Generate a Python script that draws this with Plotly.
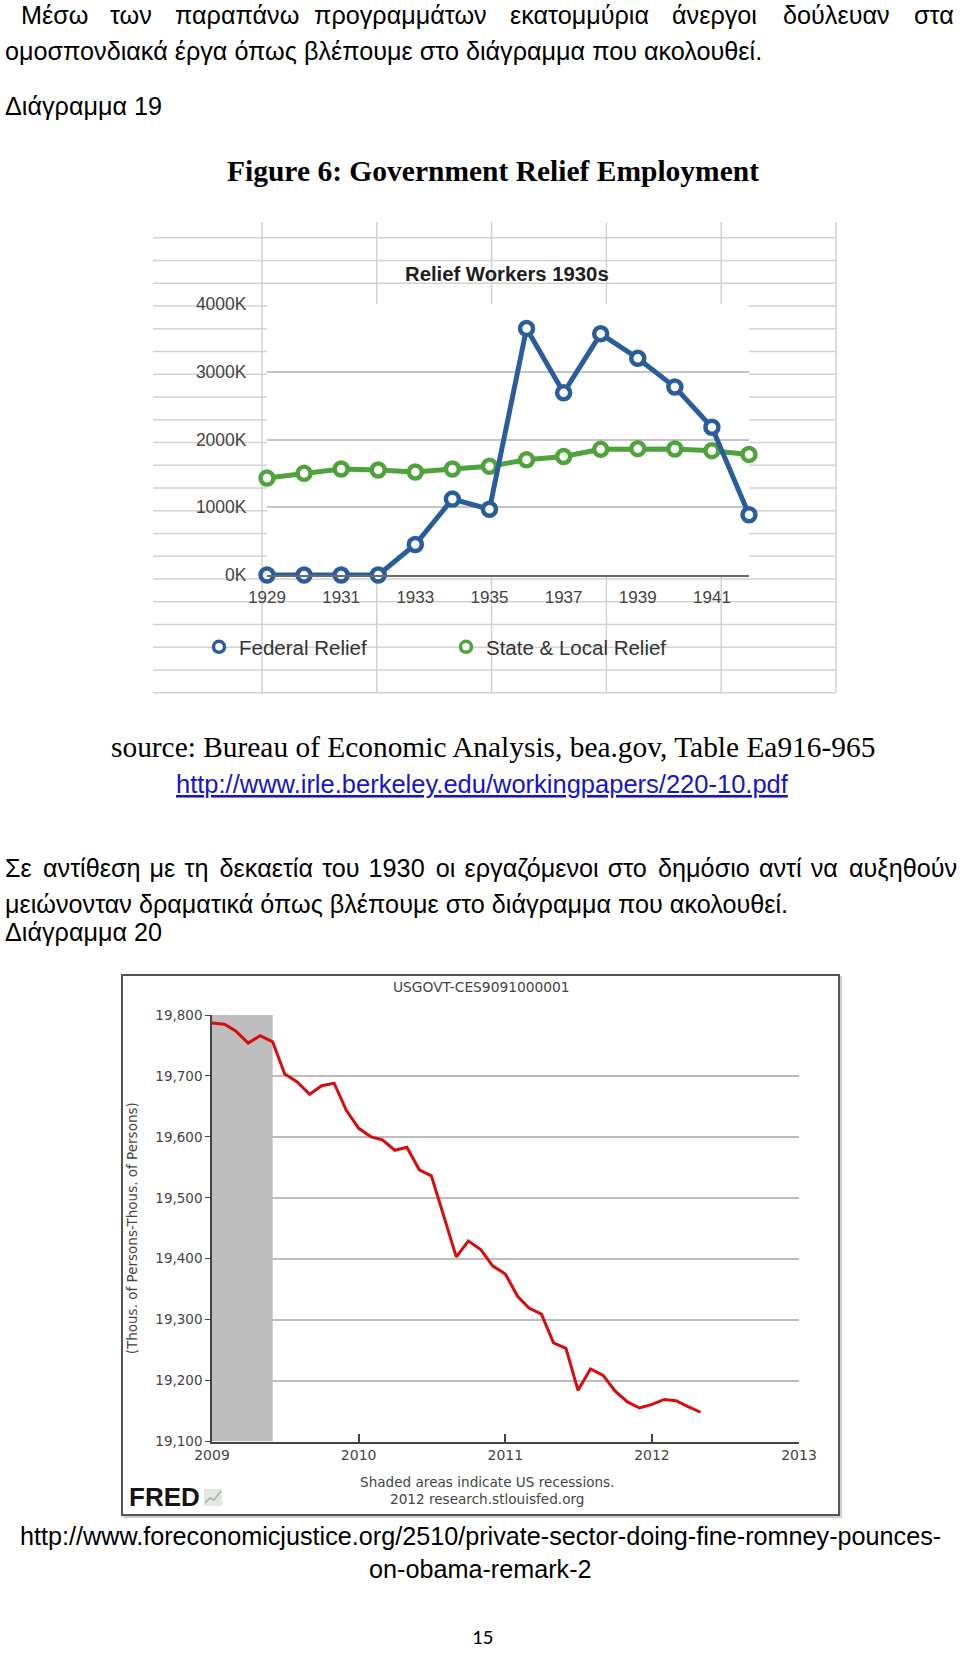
import pandas as pd
import plotly.graph_objects as go

# figure fills the whole window (body margin is removed after plotting)
OFF = 0
FW, FH = 960, 1655

# %% data: relief workers in the 1930s (thousands)
years = list(range(1929, 1943))
federal_relief = [0, 0, 0, 0, 450, 1120, 970, 3640, 2690, 3560, 3200, 2775, 2180, 890]
state_local_relief = [1430, 1500, 1565, 1550, 1520, 1565, 1605, 1700, 1750, 1855, 1865, 1860, 1835, 1780]
relief_ticks = [0, 1000, 2000, 3000, 4000]
relief_ticktext = ['0K', '1000K', '2000K', '3000K', '4000K']
year_ticks = [1929, 1931, 1933, 1935, 1937, 1939, 1941]

# %% data: USGOVT-CES9091000001 (thous. of persons), monthly
months = pd.date_range('2009-01-01', '2012-05-01', freq='MS')
gov_employees = [19787, 19785, 19774, 19754, 19766, 19756, 19703, 19690, 19670, 19684,
                 19688, 19644, 19614, 19600, 19595, 19578, 19583, 19546, 19536, 19470,
                 19403, 19429, 19415, 19388, 19375, 19338, 19319, 19309, 19262, 19253,
                 19184, 19219, 19209, 19183, 19165, 19155, 19161, 19169, 19167, 19157,
                 19148]
gov_ticks = [19100, 19200, 19300, 19400, 19500, 19600, 19700, 19800]
gov_range = [19100, 19800]
recession_start, recession_end = '2007-12-01', '2009-06-01'

BLUE = '#2a5d9b'
GREEN = '#4fa23c'
SANS = 'Liberation Sans, Arial'
SERIF = 'Liberation Serif, Times New Roman'
FRED_FONT = 'DejaVu Sans, Verdana'
BODY = 25.2


def px(x):
    return (x - OFF) / FW


def py(y):
    return 1 - (y - OFF) / FH


fig = go.Figure()

# %% chart 1 traces
fig.add_trace(go.Scatter(x=years, y=state_local_relief, mode='lines+markers',
                         line=dict(color=GREEN, width=5),
                         marker=dict(symbol='circle', size=13, color='white',
                                     line=dict(color=GREEN, width=4.5)),
                         cliponaxis=False, showlegend=False, xaxis='x', yaxis='y'))
fig.add_trace(go.Scatter(x=years, y=federal_relief, mode='lines+markers',
                         line=dict(color=BLUE, width=5),
                         marker=dict(symbol='circle', size=13, color='white',
                                     line=dict(color=BLUE, width=4.5)),
                         cliponaxis=False, showlegend=False, xaxis='x', yaxis='y'))
# legend entries (markers only, as in the original)
for name, col in [('Federal Relief', BLUE), ('State & Local Relief', GREEN)]:
    fig.add_trace(go.Scatter(x=[None], y=[None], mode='markers', name=name,
                             marker=dict(symbol='circle', size=11, color='white',
                                         line=dict(color=col, width=3.5)),
                             xaxis='x', yaxis='y'))

# %% chart 2 traces: recession band + series
fig.add_trace(go.Scatter(x=[recession_start, recession_end, recession_end, recession_start],
                         y=[gov_range[0], gov_range[0], gov_range[1], gov_range[1]],
                         fill='toself', fillcolor='#bebebe', mode='lines', line_width=0,
                         hoverinfo='skip', showlegend=False, xaxis='x2', yaxis='y2'))
fig.add_trace(go.Scatter(x=months, y=gov_employees, mode='lines',
                         line=dict(color='#d80c0c', width=3),
                         showlegend=False, xaxis='x2', yaxis='y2'))

# %% spreadsheet grid behind chart 1
shapes = []
grid_col = '#d2d2d2'
plot_l, plot_r, plot_t, plot_b = 267, 749, 304, 575
rows = [237.7 + 22.75 * k for k in range(21)]
cols = [262 + 114.8 * j for j in range(6)]
for yy in rows:
    if plot_t - 1 <= yy <= plot_b + 1:
        segs = [(153, plot_l), (plot_r, 836)]
    else:
        segs = [(153, 836)]
    for a, b in segs:
        shapes.append(dict(type='line', xref='paper', yref='paper', x0=px(a), x1=px(b),
                           y0=py(yy), y1=py(yy), line=dict(color=grid_col, width=1.5),
                           layer='below'))
for xx in cols:
    if plot_l < xx < plot_r:
        segs = [(222, plot_t), (plot_b, 693)]
    else:
        segs = [(222, 693)]
    for a, b in segs:
        shapes.append(dict(type='line', xref='paper', yref='paper', x0=px(xx), x1=px(xx),
                           y0=py(a), y1=py(b), line=dict(color=grid_col, width=1.5),
                           layer='below'))

# %% FRED frame and logo icon
shapes.append(dict(type='rect', xref='paper', yref='paper', x0=px(124), x1=px(841),
                   y0=py(977), y1=py(1517), line=dict(color='#cfcfcf', width=2), layer='below'))
shapes.append(dict(type='rect', xref='paper', yref='paper', x0=px(122), x1=px(839),
                   y0=py(975), y1=py(1515), line=dict(color='#555555', width=2),
                   fillcolor='white', layer='below'))
shapes.append(dict(type='rect', xref='paper', yref='paper', x0=px(204), x1=px(222),
                   y0=py(1506), y1=py(1489), fillcolor='#e4e8e4', line_width=0))
shapes.append(dict(type='path', xref='paper', yref='paper',
                   path=f'M {px(205)},{py(1503)} L {px(210)},{py(1498)} L {px(214)},{py(1500)} '
                        f'L {px(221)},{py(1491)}',
                   line=dict(color='#9fb49f', width=1.5)))

# %% text
ann = []


def text(x, y, s, size, family=SANS, color='black', xanchor='left', **kw):
    ann.append(dict(x=px(x), y=py(y), xref='paper', yref='paper', text=s, showarrow=False,
                    xanchor=xanchor, yanchor='middle', borderpad=0,
                    font=dict(family=family, size=size, color=color, **kw)))


# first line is justified in the original: one annotation per word
line1 = ['Μέσω', 'των', 'παραπάνω', 'προγραμμάτων', 'εκατομμύρια', 'άνεργοι', 'δούλευαν', 'στα']
line1_x = [20, 109, 174, 313, 509, 671, 782, 913]
for w_, x_ in zip(line1, line1_x):
    text(x_, 15, w_, BODY)
text(4, 51, 'ομοσπονδιακά έργα όπως βλέπουμε στο διάγραμμα που ακολουθεί.', BODY)
text(4, 106, 'Διάγραμμα 19', BODY)

text(493, 171, '<b>Figure 6: Government Relief Employment</b>', 29.5, family=SERIF,
     xanchor='center')
text(507, 274, '<b>Relief Workers 1930s</b>', 20.3, color='#1e1e1e', xanchor='center')
text(493, 747, 'source: Bureau of Economic Analysis, bea.gov, Table Ea916-965', 29.4,
     family=SERIF, xanchor='center')
text(482, 784, 'http://www.irle.berkeley.edu/workingpapers/220-10.pdf', 25.5,
     color='#1515c8', xanchor='center', lineposition='under')

# justified line: hair spaces widen the word gaps a little
words2 = 'Σε αντίθεση με τη δεκαετία του 1930 οι εργαζόμενοι στο δημόσιο αντί να αυξηθούν'.split(' ')
just = words2[0]
for i, w_ in enumerate(words2[1:]):
    just += ' \u200a' + ('\u200a' if i % 3 == 0 else '') + w_
text(4, 868, just, BODY)
text(4, 904, 'μειώνονταν δραματικά όπως βλέπουμε στο διάγραμμα που ακολουθεί.', BODY)
text(4, 932, 'Διάγραμμα 20', BODY)

text(481, 987, 'USGOVT-CES9091000001', 13.8, family=FRED_FONT, color='#444', xanchor='center')
text(487, 1482, 'Shaded areas indicate US recessions.', 13.6, family=FRED_FONT, color='#444',
     xanchor='center')
text(487, 1499, '2012 research.stlouisfed.org', 13.6, family=FRED_FONT, color='#444',
     xanchor='center')
text(128, 1497, '<b>FRED</b>', 26, family=SANS, color='#151515')

text(480, 1536, 'http://www.foreconomicjustice.org/2510/private-sector-doing-fine-romney-pounces-',
     BODY, xanchor='center')
text(480, 1569, 'on-obama-remark-2', BODY, xanchor='center')
text(482, 1637, '15', 21, family='Carlito, Lato, Liberation Sans', xanchor='center')

# %% layout
fig.update_layout(
    width=FW, height=FH, margin=dict(l=0, r=0, t=0, b=0, autoexpand=False),
    paper_bgcolor='white', plot_bgcolor='white',
    shapes=shapes, annotations=ann,
    legend=dict(orientation='h', x=px(199), y=py(647), xanchor='left', yanchor='middle',
                bgcolor='rgba(0,0,0,0)', font=dict(family=SANS, size=20.5, color='#333'),
                entrywidth=202, entrywidthmode='pixels', itemclick=False),
    xaxis=dict(domain=[px(plot_l), px(plot_r)], range=[1929, 1942], anchor='y',
               tickvals=year_ticks, showgrid=False, zeroline=False, automargin=False,
               showline=True, linecolor='#6a6a6a', linewidth=2,
               ticks='outside', ticklen=6, tickcolor='rgba(0,0,0,0)',
               tickfont=dict(family=SANS, size=17, color='#444')),
    yaxis=dict(domain=[py(plot_b), py(plot_t)], range=[0, 4000], anchor='x',
               tickvals=relief_ticks, ticktext=relief_ticktext, zeroline=False,
               automargin=False, gridcolor='#c4c4c4', gridwidth=2, showline=False,
               ticks='outside', ticklen=16, tickcolor='rgba(0,0,0,0)',
               tickfont=dict(family=SANS, size=17.5, color='#444')),
    xaxis2=dict(domain=[px(212), px(799)], range=['2009-01-01', '2013-01-01'], anchor='y2',
                type='date', dtick='M12', tickformat='%Y', showgrid=False, zeroline=False,
                automargin=False, showline=True, linecolor='#444', linewidth=1.5,
                ticks='inside', ticklen=8, tickcolor='#444', tickwidth=1.5,
                tickfont=dict(family=FRED_FONT, size=14, color='#444')),
    yaxis2=dict(domain=[py(1441.5), py(1015)], range=gov_range, anchor='x2',
                tickvals=gov_ticks, tickformat=',', zeroline=False, automargin=False,
                gridcolor='#bcbcbc', gridwidth=1.5,
                showline=True, linecolor='#444', linewidth=1.5,
                ticks='outside', ticklen=5, tickcolor='#444',
                tickfont=dict(family=FRED_FONT, size=13.5, color='#444'),
                title=dict(text='(Thous. of Persons-Thous. of Persons)',
                           font=dict(family=FRED_FONT, size=13.5, color='#444'))),
)

fig.write_html('out.html', config={'displayModeBar': False},
               post_script="document.body.style.margin='0';document.body.style.overflow='hidden';")
